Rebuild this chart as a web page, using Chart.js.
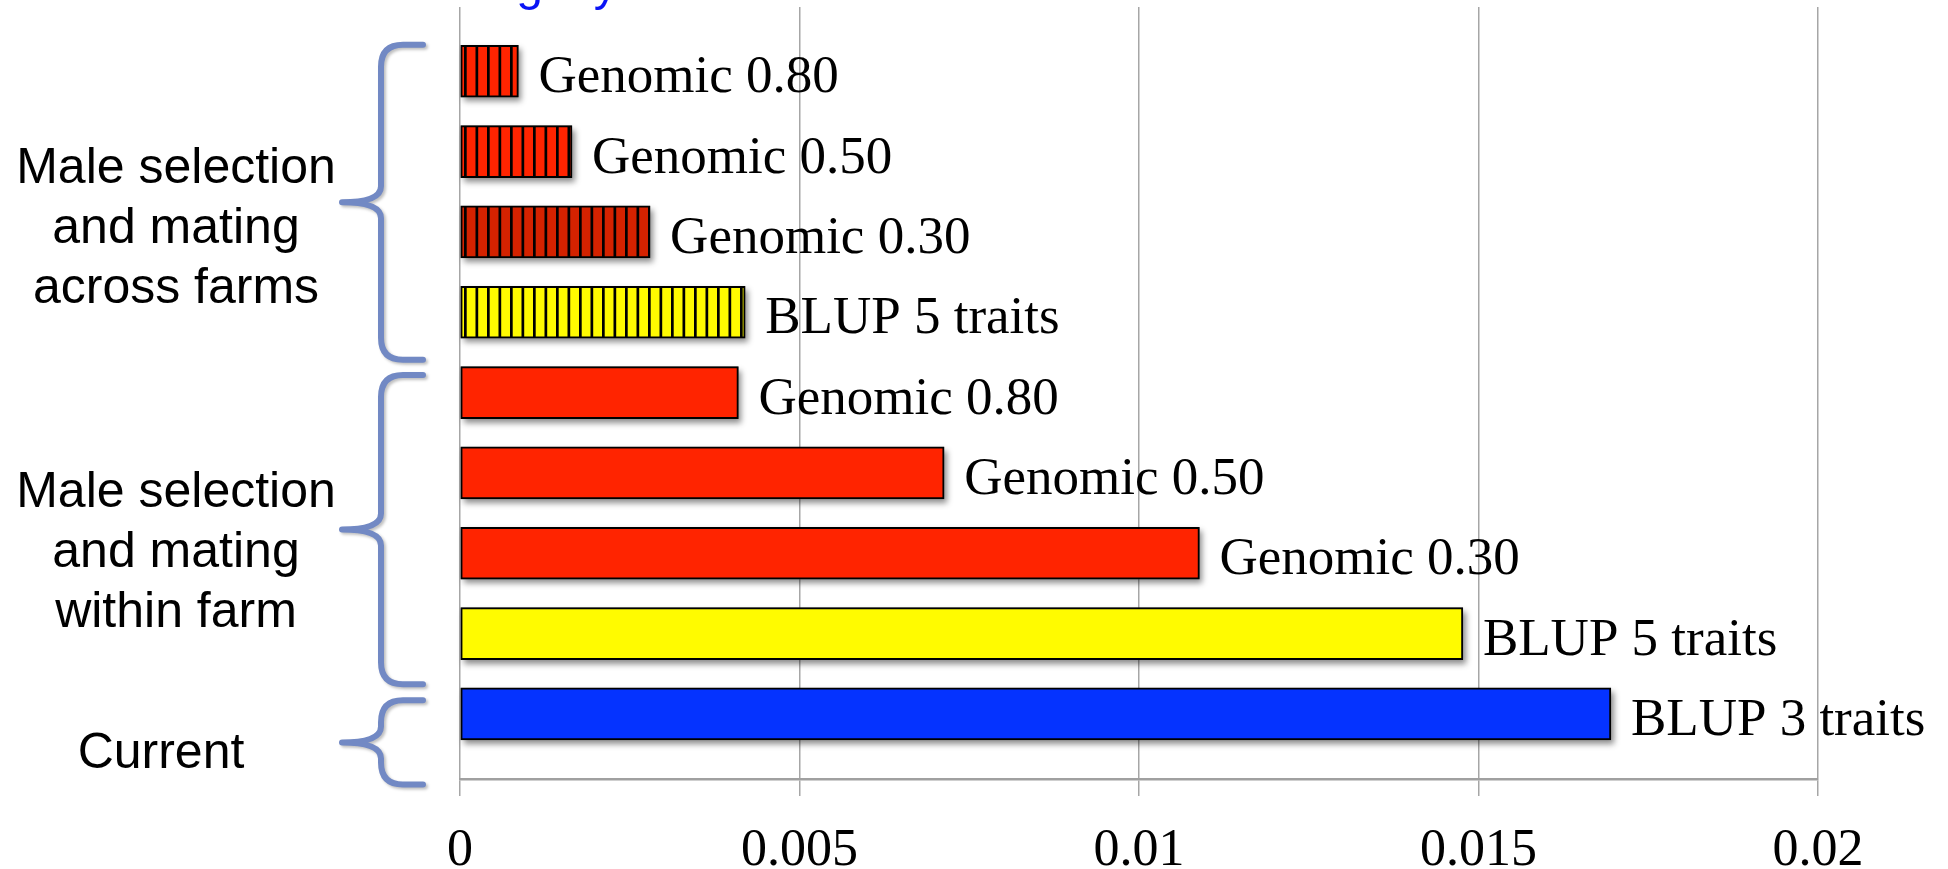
<!DOCTYPE html>
<html>
<head>
<meta charset="utf-8">
<script src="https://cdn.jsdelivr.net/npm/chart.js@4.4.1/dist/chart.umd.min.js"></script>
<style>
    html, body { margin: 0; padding: 0; background: #fff; overflow: hidden; }
    #wrap { width: 1948px; height: 869px; position: relative; }
</style>
</head>
<body>
<div id="wrap"><canvas id="chart"></canvas></div>
<script>
// --- Data ---
const barLabels = ['Genomic 0.80', 'Genomic 0.50', 'Genomic 0.30', 'BLUP 5 traits',
                   'Genomic 0.80', 'Genomic 0.50', 'Genomic 0.30', 'BLUP 5 traits',
                   'BLUP 3 traits'];
const barValues = [0.00086, 0.00165, 0.0028, 0.0042, 0.0041, 0.00713, 0.01089, 0.01477, 0.01695];
const groupLabels = [
    ['Male selection', 'and mating', 'across farms'],
    ['Male selection', 'and mating', 'within farm'],
    ['Current']
];
const groupBars = [[0, 3], [4, 7], [8, 8]];
const xTicks = [0, 0.005, 0.01, 0.015, 0.02];

document.addEventListener('DOMContentLoaded', () => {
    const canvas = document.getElementById('chart');
    const ctx = canvas.getContext('2d');

    // vertical stripe fills for the hatched bars
    const stripes = (bg) => {
        const c = document.createElement('canvas');
        c.width = 23; c.height = 4;
        const g = c.getContext('2d');
        g.fillStyle = bg;
        g.fillRect(0, 0, 23, 4);
        g.fillStyle = '#000';
        g.fillRect(4, 0, 2.7, 4);
        g.fillRect(15.5, 0, 2.7, 4);
        return ctx.createPattern(c, 'repeat');
    };

    const red = '#ff2400';
    const yellow = '#fffb00';
    const blue = '#0533ff';
    const colors = [stripes(red), stripes(red), stripes('#d42200'), stripes(yellow),
                    red, red, red, yellow, blue];

    // --- Plugins ---
    const barShadow = {
        id: 'barShadow',
        beforeDatasetsDraw(chart) {
            const c = chart.ctx;
            c.save();
            c.shadowColor = 'rgba(0,0,0,0.45)';
            c.shadowBlur = 6;
            c.shadowOffsetX = 3;
            c.shadowOffsetY = 4;
            c.fillStyle = '#888';
            chart.getDatasetMeta(0).data.forEach(bar => {
                const p = bar.getProps(['x', 'y', 'base', 'height'], true);
                c.fillRect(p.base, p.y - p.height / 2, p.x - p.base, p.height);
            });
            c.restore();
        }
    };

    const barText = {
        id: 'barText',
        afterDatasetsDraw(chart) {
            const c = chart.ctx;
            c.save();
            c.font = '53px "Liberation Serif", serif';
            c.fillStyle = '#000';
            c.textAlign = 'left';
            c.textBaseline = 'alphabetic';
            chart.getDatasetMeta(0).data.forEach((bar, i) => {
                c.fillText(barLabels[i], bar.x + 20, bar.y + 21);
            });
            c.restore();
        }
    };

    const groupsPlugin = {
        id: 'groups',
        afterDraw(chart) {
            const c = chart.ctx;
            const ys = chart.scales.y;
            const ext = [[-0.33, 0.59], [-0.22, 0.63], [-0.17, 0.88]];
            const textMid = [1.97, 6.0, 8.5];
            const textX = [176, 176, 161];
            const xEnd = 423, xStem = 381, xTip = 342, r = 22;

            c.save();
            // braces
            c.strokeStyle = '#7289c4';
            c.lineWidth = 6;
            c.lineCap = 'round';
            c.lineJoin = 'round';
            c.shadowColor = 'rgba(0,0,0,0.25)';
            c.shadowBlur = 3;
            c.shadowOffsetX = 2;
            c.shadowOffsetY = 2;
            groupBars.forEach((g, i) => {
                const top = ys.getPixelForValue(g[0] + ext[i][0]);
                const bot = ys.getPixelForValue(g[1] + ext[i][1]);
                const tip = (top + bot) / 2;
                c.beginPath();
                c.moveTo(xEnd, top);
                c.lineTo(xStem + r, top);
                c.quadraticCurveTo(xStem, top, xStem, top + r);
                c.lineTo(xStem, tip - 16);
                c.quadraticCurveTo(xStem, tip, xTip, tip);
                c.quadraticCurveTo(xStem, tip, xStem, tip + 16);
                c.lineTo(xStem, bot - r);
                c.quadraticCurveTo(xStem, bot, xStem + r, bot);
                c.lineTo(xEnd, bot);
                c.stroke();
            });
            c.restore();

            // group labels
            c.save();
            c.font = '50px "Liberation Sans", Arial, sans-serif';
            c.fillStyle = '#000';
            c.textAlign = 'center';
            c.textBaseline = 'middle';
            groupLabels.forEach((lines, i) => {
                const mid = ys.getPixelForValue(textMid[i]);
                lines.forEach((line, k) => {
                    c.fillText(line, textX[i], mid + (k - (lines.length - 1) / 2) * 60);
                });
            });

            // title cut off by the top edge
            c.font = '48px "Liberation Sans", Arial, sans-serif';
            c.fillStyle = '#0a14f5';
            c.textAlign = 'left';
            c.textBaseline = 'alphabetic';
            c.fillText('Slightly', 463, 0);
            c.restore();
        }
    };

    new Chart(ctx, {
        type: 'bar',
        data: {
            datasets: [{
                data: barValues.map((v, i) => ({ x: v, y: i })),
                backgroundColor: colors,
                borderColor: '#000',
                borderWidth: 2,
                borderSkipped: false,
                barThickness: 52
            }]
        },
        options: {
            indexAxis: 'y',
            responsive: true,
            maintainAspectRatio: false,
            animation: false,
            layout: { padding: { left: 460, right: 130, top: 7, bottom: 0 } },
            plugins: {
                legend: { display: false },
                tooltip: { enabled: false }
            },
            scales: {
                x: {
                    type: 'linear',
                    min: xTicks[0],
                    max: xTicks[xTicks.length - 1],
                    afterBuildTicks: (scale) => { scale.ticks = xTicks.map(v => ({ value: v })); },
                    afterFit: (scale) => { scale.height = 90; },
                    ticks: {
                        padding: 24,
                        color: '#000',
                        font: { family: '"Liberation Serif", serif', size: 52 },
                        callback: (v) => String(+(+v).toFixed(3))
                    },
                    grid: { color: '#a6a6a6', lineWidth: 1.5, tickLength: 17 },
                    border: { color: '#a0a0a0', width: 2.5 }
                },
                y: {
                    type: 'linear',
                    display: false,
                    reverse: true,
                    offset: false,
                    min: -0.8,
                    max: 8.81
                }
            }
        },
        plugins: [barShadow, barText, groupsPlugin]
    });
});
</script>
</body>
</html>
